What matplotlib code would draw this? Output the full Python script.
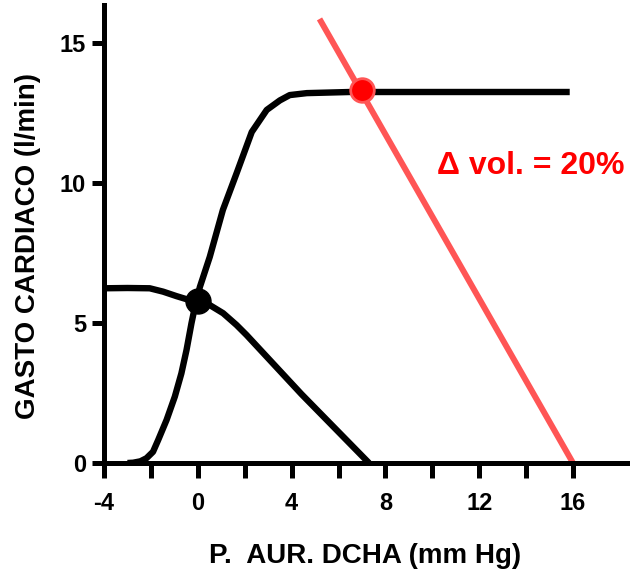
import matplotlib
matplotlib.use("Agg")
import matplotlib.pyplot as plt
import numpy as np

plt.rcParams['font.family'] = ['Liberation Sans', 'DejaVu Sans']
plt.rcParams['font.weight'] = 'bold'

# Cardiac function curve (black, rising)
cf_x = [-3.0, -2.76, -2.45, -2.19, -1.91, -1.69, -1.33, -0.98, -0.70, -0.48, -0.27, -0.09,
        0.09, 0.51, 1.07, 1.66, 2.30, 2.94, 3.50, 3.92, 4.65, 6.48, 15.86]
cf_y = [0.0, 0.01, 0.06, 0.17, 0.40, 0.82, 1.54, 2.37, 3.20, 4.04, 4.99, 5.71,
        6.29, 7.36, 9.04, 10.36, 11.82, 12.61, 12.95, 13.14, 13.21, 13.25, 13.25]

# Venous return curve (black, falling)
vr_x = [-4.0, -3.0, -2.05, -1.48, -0.91, -0.48, -0.06, 0.51, 1.08, 1.65, 2.08, 4.42, 7.3]
vr_y = [6.24, 6.25, 6.24, 6.12, 5.96, 5.85, 5.82, 5.64, 5.35, 4.93, 4.57, 2.46, 0.0]

# Venous return with +20% volume (red line)
red_x = [5.19, 16.0]
red_y = [15.86, 0.0]

# Equilibrium points
eq_black = (0.0, 5.8)
eq_red = (6.99, 13.32)

xticks = [-4, -2, 0, 2, 4, 6, 8, 10, 12, 14, 16]
xticklabels = ['-4', '', '0', '', '4', '', '8', '', '12', '', '16']
yticks = [0, 5, 10, 15]

fig = plt.figure(figsize=(6.42, 5.77), dpi=100)
ax = fig.add_axes([104/642, 1-463/577, (627-104)/642, (463-5)/577])

ax.plot(red_x, red_y, color='#FF5555', lw=4.3, solid_capstyle='butt', zorder=2)
ax.plot(cf_x, cf_y, color='black', lw=4.6, solid_capstyle='butt', solid_joinstyle='round', zorder=3)
ax.plot(vr_x, vr_y, color='black', lw=4.6, solid_capstyle='butt', solid_joinstyle='round', zorder=3)
ax.plot(*eq_black, 'o', color='black', ms=18, zorder=4)
ax.plot(*eq_red, 'o', color='#FF0000', mec='#FF5555', mew=2, ms=17, zorder=5)

ax.text(10.2, 10.6, 'Δ vol. = 20%', color='#FF0000', fontsize=23, fontweight='bold',
        ha='left', va='center')

ax.set_xlim(-4, (627-104)/23.45 - 4)
ax.set_ylim(0, 458/28)
ax.set_xticks(xticks)
ax.set_xticklabels(xticklabels)
ax.set_yticks(yticks)

for s in ['top', 'right']:
    ax.spines[s].set_visible(False)
for s in ['left', 'bottom']:
    ax.spines[s].set_linewidth(3.6)

ax.tick_params(axis='x', length=11, width=3.6, labelsize=17, pad=10)
ax.tick_params(axis='y', length=9, width=3.6, labelsize=17, pad=4)
for lab in ax.get_xticklabels() + ax.get_yticklabels():
    lab.set_fontweight('bold')

ax.set_xlabel('P.  AUR. DCHA (mm Hg)', fontsize=20, fontweight='bold', labelpad=20)
ax.set_ylabel('GASTO CARDIACO (l/min)', fontsize=20, fontweight='bold')
ax.yaxis.set_label_coords(-0.12, 0.474)

fig.savefig('out.png', dpi=100)
